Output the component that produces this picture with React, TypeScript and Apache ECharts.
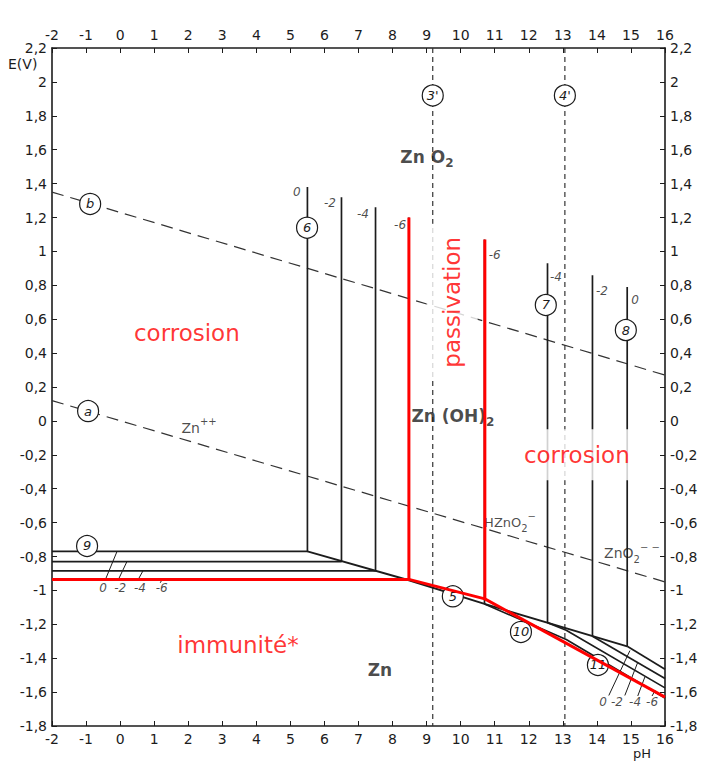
import React, { useEffect, useRef } from "react";
import * as echarts from "echarts";

// ---------- axes ----------
const PH_MIN = -2;
const PH_MAX = 16;
const PH_STEP = 1;
const E_MIN = -1.8;
const E_MAX = 2.2;
const E_STEP = 0.2;

// ---------- water stability lines (dashed) ----------
const LINE_A = [[-2, 0.12], [16, -0.95]];
const LINE_B = [[-2, 1.35], [16, 0.27]];
const LINE_3P = [[9.18, 2.2], [9.18, -1.8]];
const LINE_4P = [[13.06, 2.2], [13.06, -1.8]];

// ---------- acid side: line 9 (horizontal) + line 6 (vertical), per log concentration ----------
const ACID_CONC = [0, -2, -4, -6];
const LINE9_E = [-0.77, -0.83, -0.885, -0.935];
const LINE6_PH = [5.5, 6.5, 7.5, 8.48];
const LINE6_TOP = [1.38, 1.32, 1.26, 1.2];

// ---------- line 5 (Zn(OH)2 / Zn) ----------
const LINE5 = [[5.5, -0.77], [8.48, -0.94], [10.7, -1.08], [14.89, -1.33]];

// ---------- alkaline side verticals (lines 7 / 8) ----------
const ALK_CONC = [-6, -4, -2, 0];
const ALK_PH = [10.7, 12.55, 13.87, 14.89];
const ALK_TOP = [1.07, 0.93, 0.86, 0.79];
const ALK_BOTTOM = [-1.08, -1.19, -1.27, -1.33];

// ---------- lines 10 / 11 (dissolved species / Zn) ----------
const LOW_C0 = [[14.89, -1.33], [16, -1.465]];
const LOW_C2 = [[13.87, -1.27], [16, -1.52]];
const LOW_C4 = [[12.55, -1.19], [13.1, -1.235], [16, -1.575]];
const LOW_C6 = [[10.7, -1.08], [13.1, -1.29], [16, -1.635]];

// ---------- red overlay ----------
const RED_ACID = [[-2, -0.935], [8.48, -0.935], [8.48, 1.2]];
const RED_MID = [[8.48, -0.935], [10.71, -1.05], [10.71, 1.07]];
const RED_ALK = [[10.71, -1.05], [16, -1.63]];

// ---------- hatching strokes ----------
const HATCH_9 = [
  [[-0.44, -0.94], [-0.09, -0.77]],
  [[-0.06, -0.94], [0.2, -0.83]],
  [[0.52, -0.94], [0.67, -0.885]],
  [[1.18, -0.955], [1.22, -0.94]],
];
const HATCH_11 = [
  [[14.35, -1.62], [14.97, -1.355]],
  [[14.82, -1.62], [15.2, -1.424]],
  [[15.2, -1.623], [15.41, -1.51]],
  [[15.62, -1.623], [15.71, -1.59]],
];

// ---------- circled labels ----------
const CIRCLE_LABELS = ["3'", "4'", "6", "b", "a", "7", "8", "9", "5", "10", "11"];
const CIRCLE_PH = [9.18, 13.06, 5.49, -0.88, -0.94, 12.5, 14.85, -0.97, 9.77, 11.77, 14.03];
const CIRCLE_E = [1.92, 1.92, 1.14, 1.28, 0.058, 0.684, 0.536, -0.738, -1.035, -1.245, -1.44];

// ---------- concentration labels ----------
const CONC_TEXT = ["0", "-2", "-4", "-6", "-6", "-4", "-2", "0", "0", "-2", "-4", "-6", "0", "-2", "-4", "-6"];
const CONC_PH = [5.19, 6.16, 7.13, 8.22, 11.0, 12.8, 14.15, 15.12, -0.5, 0.0, 0.58, 1.22, 14.18, 14.59, 15.12, 15.62];
const CONC_E = [1.35, 1.285, 1.22, 1.156, 0.98, 0.85, 0.766, 0.713, -0.985, -0.985, -0.985, -0.985, -1.658, -1.658, -1.658, -1.658];

// ---------- species labels ----------
const SPECIES_TEXT = ["{b|Zn O}{bs|2}", "{b|Zn (OH)}{bs|2}", "{n|Zn}{sup|++}", "{s|HZnO}{ss|2}{sp|−}", "{n|ZnO}{ns|2}{sup|− −}", "{b|Zn}"];
const SPECIES_PH = [9.01, 9.77, 2.32, 11.45, 15.03, 7.63];
const SPECIES_E = [1.557, 0.03, -0.04, -0.6, -0.78, -1.47];

// ---------- red region labels ----------
const REGION_TEXT = ["corrosion", "passivation", "corrosion", "immunité*"];
const REGION_PH = [1.96, 9.75, 13.41, 3.46];
const REGION_E = [0.519, 0.70, -0.2, -1.32];
const REGION_ROTATE = [0, 90, 0, 0];

const FONT = "DejaVu Sans";
const INK = "#1c1c1c";

function fmtE(v: number): string {
  const r = Math.round(v * 10) / 10;
  return String(r === 0 ? 0 : r).replace(".", ",");
}

function solid(data: number[][], width = 1.7, color = INK, z = 2) {
  return {
    type: "line",
    data,
    symbol: "none",
    silent: true,
    lineStyle: { color, width },
    z,
  };
}

function dashed(data: number[][], dash: number[]) {
  return {
    type: "line",
    data,
    symbol: "none",
    silent: true,
    lineStyle: { color: "#333", width: 1.2, type: dash },
    z: 1,
  };
}

export default function App() {
  const ref = useRef<HTMLDivElement>(null);

  useEffect(() => {
    if (!ref.current) return;
    const chart = echarts.init(ref.current, undefined, { renderer: "svg" });

    const xCommon = {
      type: "value",
      min: PH_MIN,
      max: PH_MAX,
      interval: PH_STEP,
      axisLine: { show: true, onZero: false, lineStyle: { color: INK, width: 1.6 } },
      axisTick: { show: true, inside: true, length: 5, lineStyle: { color: INK, width: 1 } },
      splitLine: { show: false },
      axisLabel: { color: INK, fontSize: 14, fontFamily: FONT, margin: 6 },
    };
    const yCommon = {
      type: "value",
      min: E_MIN,
      max: E_MAX,
      interval: E_STEP,
      axisLine: { show: true, onZero: false, lineStyle: { color: INK, width: 1.6 } },
      axisTick: { show: true, inside: true, length: 5, lineStyle: { color: INK, width: 1 } },
      splitLine: { show: false },
      axisLabel: { color: INK, fontSize: 14, fontFamily: FONT, margin: 5, formatter: fmtE },
    };

    const series: any[] = [];
    series.push(dashed(LINE_A, [12, 7]));
    series.push(dashed(LINE_B, [12, 7]));
    series.push(dashed(LINE_3P, [5, 4]));
    series.push(dashed(LINE_4P, [5, 4]));

    ACID_CONC.forEach((_c, i) => {
      series.push(
        solid([
          [PH_MIN, LINE9_E[i]],
          [LINE6_PH[i], LINE9_E[i]],
          [LINE6_PH[i], LINE6_TOP[i]],
        ])
      );
    });
    series.push(solid(LINE5, 1.9));
    ALK_CONC.forEach((_c, i) => {
      series.push(
        solid([
          [ALK_PH[i], ALK_BOTTOM[i]],
          [ALK_PH[i], ALK_TOP[i]],
        ])
      );
    });
    [LOW_C0, LOW_C2, LOW_C4, LOW_C6].forEach((d) => series.push(solid(d, 1.7)));
    HATCH_9.forEach((d) => series.push(solid(d, 1)));
    HATCH_11.forEach((d) => series.push(solid(d, 1)));

    [RED_ACID, RED_MID, RED_ALK].forEach((d) => series.push(solid(d, 3, "#ff0000", 8)));

    // circled labels
    series.push({
      type: "scatter",
      silent: true,
      z: 6,
      symbol: "circle",
      symbolSize: 21,
      itemStyle: { color: "#fff", borderColor: INK, borderWidth: 1.2, opacity: 1 },
      label: {
        show: true,
        position: "inside",
        formatter: (p: any) => p.name,
        fontStyle: "italic",
        fontFamily: FONT,
        fontSize: 13,
        color: INK,
      },
      data: CIRCLE_PH.map((x, i) => ({ name: CIRCLE_LABELS[i], value: [x, CIRCLE_E[i]] })),
    });

    // concentration numbers
    series.push({
      type: "scatter",
      silent: true,
      z: 6,
      symbolSize: 0,
      label: {
        show: true,
        position: "inside",
        formatter: (p: any) => p.name,
        fontStyle: "italic",
        fontFamily: FONT,
        fontSize: 12,
        color: INK,
      },
      data: CONC_PH.map((x, i) => ({ name: CONC_TEXT[i], value: [x, CONC_E[i]] })),
    });

    // species
    series.push({
      type: "scatter",
      silent: true,
      z: 6,
      symbolSize: 0,
      label: {
        show: true,
        position: "inside",
        formatter: (p: any) => p.name,
        color: INK,
        fontFamily: FONT,
        rich: {
          b: { fontWeight: "bold", fontSize: 17, lineHeight: 24, fontFamily: FONT, color: INK },
          bs: { fontWeight: "bold", fontSize: 12, lineHeight: 12, verticalAlign: "bottom", fontFamily: FONT, color: INK },
          n: { fontSize: 14, lineHeight: 22, fontFamily: FONT, color: INK },
          ns: { fontSize: 10, lineHeight: 10, verticalAlign: "bottom", fontFamily: FONT, color: INK },
          sup: { fontSize: 10, lineHeight: 10, verticalAlign: "top", fontFamily: FONT, color: INK },
          s: { fontSize: 13, lineHeight: 22, fontFamily: FONT, color: INK },
          ss: { fontSize: 10, lineHeight: 10, verticalAlign: "bottom", fontFamily: FONT, color: INK },
          sp: { fontSize: 10, lineHeight: 10, verticalAlign: "top", fontFamily: FONT, color: INK },
        },
      },
      data: SPECIES_PH.map((x, i) => ({ name: SPECIES_TEXT[i], value: [x, SPECIES_E[i]] })),
    });

    // red region labels
    series.push({
      type: "scatter",
      silent: true,
      z: 5,
      symbolSize: 0,
      data: REGION_PH.map((x, i) => ({
        name: REGION_TEXT[i],
        value: [x, REGION_E[i]],
        label: {
          rotate: REGION_ROTATE[i],
          padding: REGION_ROTATE[i] ? [14, 13] : [14, 16],
        },
      })),
      label: {
        show: true,
        position: "inside",
        formatter: (p: any) => p.name,
        color: "#ff0000",
        fontFamily: FONT,
        fontSize: 23,
        backgroundColor: "#ffffff",
      },
    });

    chart.setOption({
      animation: false,
      backgroundColor: "#ffffff",
      grid: { left: 52, right: 40, top: 48, bottom: 36, containLabel: false },
      xAxis: [
        { ...xCommon, position: "bottom" },
        { ...xCommon, position: "top" },
      ],
      yAxis: [
        { ...yCommon, position: "left" },
        { ...yCommon, position: "right" },
      ],
      graphic: [
        { type: "text", left: 8, top: 57, style: { text: "E(V)", fontSize: 14, fontFamily: FONT, fill: INK } },
        { type: "text", left: 633, top: 747, style: { text: "pH", fontSize: 13, fontFamily: FONT, fill: INK } },
      ],
      series,
    });

    return () => chart.dispose();
  }, []);

  return (
    <div
      ref={ref}
      style={{ position: "fixed", left: 0, top: 0, width: 705, height: 762, background: "#fff" }}
    />
  );
}
